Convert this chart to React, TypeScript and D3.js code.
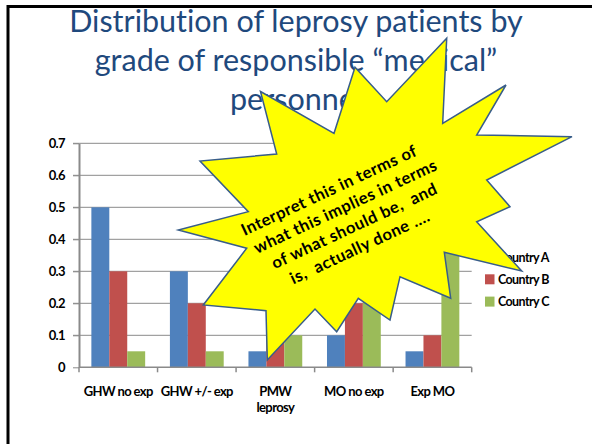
import React, { useRef, useEffect } from "react";
import * as d3 from "d3";

const categories = ["GHW no exp", "GHW +/- exp", "PMW leprosy", "MO no exp", "Exp MO"];
const seriesNames = ["Country A", "Country B", "Country C"];
const countryA = [0.5, 0.3, 0.05, 0.1, 0.05];
const countryB = [0.3, 0.2, 0.2, 0.2, 0.1];
const countryC = [0.05, 0.05, 0.1, 0.3, 0.5];
const yTicks = [0, 0.1, 0.2, 0.3, 0.4, 0.5, 0.6, 0.7];

const titleLines = ["Distribution of leprosy patients by", "grade of responsible \u201cmedical\u201d", "personnel"];
const calloutLines = ["Interpret this in terms of", "what this implies in terms", "of what should be,  and", "is,  actually done ...."];

// the yellow explosion shape laid over the chart
const burstPoints: [number, number][] = [
  [260.5, 91.5], [334, 133.3], [355, 67.3], [386.7, 101.7], [446.7, 38.3], [442.7, 123.3],
  [506, 85], [476.7, 135], [572, 136.7], [486.7, 180], [510, 206.7], [476.7, 221.7],
  [521.7, 271], [444.3, 252.3], [450.7, 298.3], [400, 276.7], [390, 320], [358.3, 298.3],
  [336.7, 331.7], [315, 309], [267.3, 360], [266, 310.7], [203.3, 305], [246.7, 248.3],
  [178.3, 230], [248.3, 211.7], [200, 161], [276.7, 154],
];

const colors = ["#4F81BD", "#C0504D", "#9BBB59"];
const W = 592;
const H = 444;
const labelFont = "Lato, 'Open Sans', sans-serif";

function Chart() {
  const svgRef = useRef<SVGSVGElement>(null);

  useEffect(() => {
    const svg = d3.select(svgRef.current);
    svg.selectAll("*").remove();

    const plot = { left: 79, right: 471.7, top: 143.3, bottom: 367.3 };
    const values = [countryA, countryB, countryC];

    const x = d3.scaleBand().domain(categories).range([plot.left, plot.right]).padding(0);
    const xs = d3.scaleBand().domain(seriesNames).range([0, x.bandwidth()]).paddingInner(0).paddingOuter(0.69);
    const y = d3.scaleLinear().domain([0, 0.7]).range([plot.bottom, plot.top]);

    // slide frame
    svg.append("rect")
      .attr("x", 8).attr("y", 6.5).attr("width", 700).attr("height", 600)
      .attr("fill", "white").attr("stroke", "black").attr("stroke-width", 3);

    // title
    svg.append("g")
      .selectAll("text")
      .data(titleLines)
      .join("text")
      .attr("x", 296)
      .attr("y", (d, i) => 32 + i * 39)
      .attr("text-anchor", "middle")
      .attr("font-family", labelFont)
      .attr("font-size", 30.5)
      .style("font-variant-ligatures", "none")
      .attr("fill", "#1F497D")
      .text(d => d);

    // gridlines
    svg.append("g")
      .selectAll("line")
      .data(yTicks.filter(t => t > 0))
      .join("line")
      .attr("x1", plot.left - 6).attr("x2", plot.right)
      .attr("y1", d => y(d)).attr("y2", d => y(d))
      .attr("stroke", "#8A8A8A").attr("stroke-width", 1);

    // y axis
    const yAxis = d3.axisLeft(y)
      .tickValues(yTicks)
      .tickSize(6)
      .tickSizeOuter(0)
      .tickPadding(8)
      .tickFormat(d => (+d === 0 ? "0" : d3.format(".1f")(+d)));
    const gy = svg.append("g").attr("transform", `translate(${plot.left},0)`).call(yAxis);
    gy.select(".domain").attr("stroke", "#8A8A8A").attr("stroke-width", 2);
    gy.selectAll(".tick line").attr("stroke", "#8A8A8A");
    gy.selectAll(".tick text")
      .attr("font-family", labelFont).attr("font-weight", "bold")
      .attr("font-size", 13).attr("letter-spacing", -0.6).attr("fill", "#000");

    // bars
    svg.append("g")
      .selectAll("g")
      .data(values)
      .join("g")
      .attr("fill", (d, i) => colors[i])
      .selectAll("rect")
      .data((vals, si) => vals.map((v, ci) => ({ v, c: categories[ci], s: seriesNames[si] })))
      .join("rect")
      .attr("x", d => (x(d.c) ?? 0) + (xs(d.s) ?? 0))
      .attr("width", xs.bandwidth())
      .attr("y", d => y(d.v))
      .attr("height", d => plot.bottom - y(d.v));

    // x axis
    svg.append("line")
      .attr("x1", plot.left).attr("x2", plot.right)
      .attr("y1", plot.bottom).attr("y2", plot.bottom)
      .attr("stroke", "#8A8A8A").attr("stroke-width", 1.5);
    const edges = categories.map(c => x(c) ?? 0).concat([plot.right]);
    svg.append("g")
      .selectAll("line")
      .data(edges)
      .join("line")
      .attr("x1", d => d).attr("x2", d => d)
      .attr("y1", plot.bottom).attr("y2", plot.bottom + 5)
      .attr("stroke", "#8A8A8A").attr("stroke-width", 1.5);

    // excel wrapped only this one
    const wrap = (c: string) => (c === "PMW leprosy" ? c.split(" ") : [c]);
    const xl = svg.append("g")
      .selectAll("text")
      .data(categories)
      .join("text")
      .attr("x", d => (x(d) ?? 0) + x.bandwidth() / 2)
      .attr("y", 396)
      .attr("text-anchor", "middle")
      .attr("font-family", labelFont).attr("font-weight", "bold")
      .attr("font-size", 13).attr("letter-spacing", -0.6);
    xl.selectAll("tspan")
      .data(d => wrap(d))
      .join("tspan")
      .attr("x", function () {
        return (this.parentNode as SVGTextElement).getAttribute("x");
      })
      .attr("dy", (d, i) => (i === 0 ? 0 : 16))
      .text(d => d);

    // legend
    const lg = svg.append("g")
      .selectAll("g")
      .data(seriesNames)
      .join("g")
      .attr("transform", (d, i) => `translate(485, ${257 + i * 22.3})`);
    lg.append("rect")
      .attr("x", 0).attr("y", -5).attr("width", 9.5).attr("height", 10)
      .attr("fill", (d, i) => colors[i]);
    lg.append("text")
      .attr("x", 13).attr("y", 4.5)
      .attr("font-family", labelFont).attr("font-weight", "bold")
      .attr("font-size", 12.5).attr("letter-spacing", -0.6)
      .text(d => d);

    // callout
    svg.append("polygon")
      .attr("points", burstPoints.map(p => p.join(",")).join(" "))
      .attr("fill", "#FFFF00")
      .attr("stroke", "#385D8A")
      .attr("stroke-width", 1.5)
      .attr("stroke-linejoin", "miter");

    svg.append("g")
      .attr("transform", "translate(345,220) rotate(-25)")
      .selectAll("text")
      .data(calloutLines)
      .join("text")
      .attr("x", (d, i) => [-2, 6, 6, 2][i])
      .attr("y", (d, i) => -28 + i * 21.5)
      .attr("text-anchor", "middle")
      .attr("font-family", labelFont)
      .attr("font-weight", "bold")
      .attr("font-size", 16.5)
      .attr("letter-spacing", 0.5)
      .style("white-space", "pre")
      .attr("fill", "#000")
      .text(d => d);
  }, []);

  return <svg ref={svgRef} width={W} height={H} style={{ position: "absolute", left: 0, top: 0 }} />;
}

export default function App() {
  return <Chart />;
}
